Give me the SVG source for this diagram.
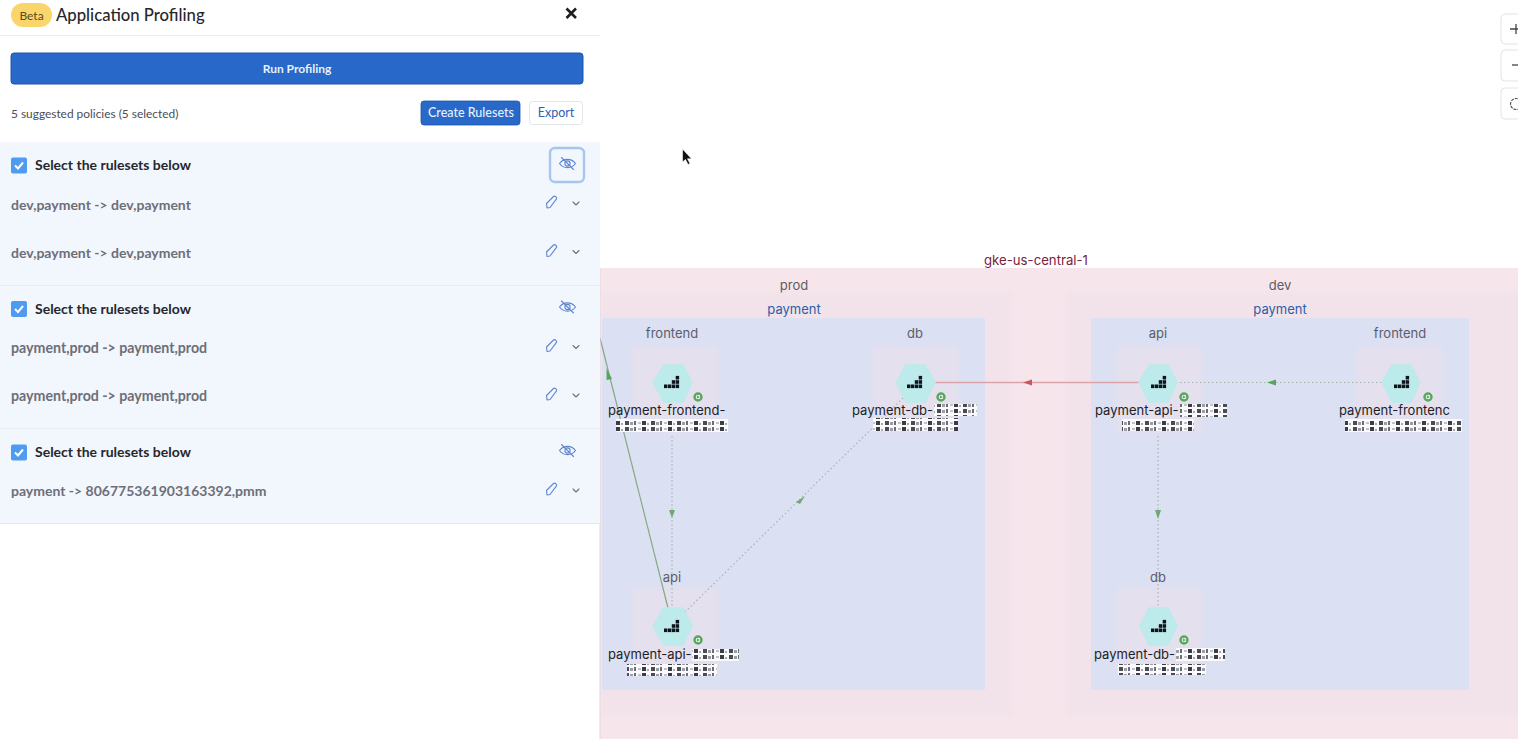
<svg xmlns="http://www.w3.org/2000/svg" width="1518" height="739" viewBox="0 0 1518 739">
<style>
.ui{font-family:Lato,"Liberation Sans",sans-serif}
.sel{font-size:14px;font-weight:700;fill:#26272c}
.rule{font-size:14px;font-weight:700;fill:#6d6f78}
.ico{fill:none;stroke:#5f86cf;stroke-width:1.1;stroke-linecap:round;stroke-linejoin:round}
.chev{fill:none;stroke:#6d7280;stroke-width:1.1;stroke-linecap:round;stroke-linejoin:round}
.lbl{font-family:Inter,"Liberation Sans",sans-serif;font-size:13px;fill:#1d1e26}
.grp{font-family:Inter,"Liberation Sans",sans-serif;font-size:13px;fill:#5b5d68;text-anchor:middle}
.hex{fill:#bdeaea;stroke:#bdeaea;stroke-width:1.5;stroke-linejoin:round}
.halo{fill:#f0e0e8;opacity:.5}
.dot{fill:#fff;stroke:#5aa65e;stroke-width:2.4}
.play{fill:#5aa65e}
.bar{fill:#10131c}
.green{stroke:#86a886;stroke-width:1.2;fill:none}
.dotted{stroke:#a9b5b0;stroke-width:1.2;stroke-dasharray:1.5 2.5;fill:none}
.red{stroke:#dca3a8;stroke-width:1.6;fill:none}
.zoom{fill:#fff;stroke:#e2e3e6;stroke-width:1}
</style>
<defs>
<filter id="soft" x="-10%" y="-10%" width="120%" height="120%"><feGaussianBlur stdDeviation="2.500"/></filter>
<filter id="edge" x="-10%" y="-10%" width="120%" height="120%"><feGaussianBlur stdDeviation=".5"/></filter>
<pattern id="blur" width="26" height="6" patternUnits="userSpaceOnUse">
<rect width="26" height="6" fill="#fafafc"/>
<rect x="1" y="1" width="4" height="4" fill="#4a4b53"/><rect x="6" y="2" width="3" height="3" fill="#9c9da5"/><rect x="10" y="1" width="2" height="4" fill="#6b6c74"/><rect x="14" y="2" width="3" height="2" fill="#c2c3ca"/><rect x="18" y="1" width="4" height="4" fill="#3b3c44"/><rect x="23" y="3" width="2" height="2" fill="#a8a9b0"/>
</pattern>
<symbol id="bars" viewBox="0 0 15 15" overflow="visible">
<rect class="bar" x="0" y="9.500" width="3.400" height="3.600"/><rect class="bar" x="3.900" y="9.500" width="3.400" height="3.600"/><rect class="bar" x="7.800" y="9.500" width="3.400" height="3.600"/><rect class="bar" x="11.700" y="9.500" width="3.400" height="3.600"/>
<rect class="bar" x="7.800" y="5.200" width="3.400" height="3.600"/><rect class="bar" x="11.700" y="5.200" width="3.400" height="3.600"/><rect class="bar" x="11.700" y="0.900" width="3.400" height="3.600"/>
</symbol>
<g id="eye"><path class="ico" d="M-8 0C-4-5.500 4-5.500 8 0C4 5.500-4 5.500-8 0Z"/><circle class="ico" r="2.600"/><path class="ico" d="M-6-6L6 6"/></g>
<g id="pen"><path class="ico" d="M-5 6L-5.500 1.500L1.500-5.500C3-6.800 5.600-4.300 4.300-2.800L-2 5.500Z"/></g>
<path id="chevron" class="chev" d="M-3-1.500L0 1.500L3-1.500"/>
<g id="check"><rect x="-8" y="-8" width="16" height="16" rx="2" fill="#4f9bf0"/><path d="M-4 0L-1 3L4-3" fill="none" stroke="#fff" stroke-width="2"/></g>
</defs>
<rect width="1518" height="739" fill="#fff"/>

<g id="canvas">
<rect x="600" y="268" width="918" height="471" fill="#f7e5ec"/>
<rect x="600" y="292" width="412" height="424" fill="#f2e2ea" filter="url(#soft)"/>
<rect x="1066" y="292" width="460" height="424" fill="#f2e2ea" filter="url(#soft)"/>
<rect x="602" y="318" width="383" height="372" fill="#dbe0f3" filter="url(#edge)"/>
<rect x="1091" y="318" width="378" height="372" fill="#dbe0f3" filter="url(#edge)"/>
<text x="1036" y="265" font-family="Inter,'Liberation Sans',sans-serif" font-size="13.200" fill="#7a2240" text-anchor="middle">gke-us-central-1</text>
<text class="grp" x="794" y="290">prod</text>
<text class="grp" x="1280" y="290">dev</text>
<text class="grp" x="794" y="314" style="fill:#2c5fa8">payment</text>
<text class="grp" x="1280" y="314" style="fill:#2c5fa8">payment</text>
</g>

<g id="node-halos">
<rect class="halo" x="632" y="347" width="86" height="86" filter="url(#soft)"/>
<rect class="halo" x="873" y="347" width="86" height="86" filter="url(#soft)"/>
<rect class="halo" x="1116" y="347" width="86" height="86" filter="url(#soft)"/>
<rect class="halo" x="1357" y="347" width="86" height="86" filter="url(#soft)"/>
<rect class="halo" x="632" y="588" width="86" height="86" filter="url(#soft)"/>
<rect class="halo" x="1116" y="588" width="86" height="86" filter="url(#soft)"/>
</g>

<g id="connectors">
<path class="green" d="M600 338L668 608"/>
<path d="M606.500 368L612 379L606.500 380Z" fill="#58a55c"/>
<path class="dotted" d="M672 436V608"/>
<path d="M672 518L669 510H675Z" fill="#6fa873"/>
<path class="dotted" d="M685 612L905 396"/>
<path d="M796 502L805 496L800 504Z" fill="#6fa873"/>
<path class="red" d="M935 382.500H1140"/>
<path d="M1023 382.500L1032 379.500V385.500Z" fill="#c9555d"/>
<path class="dotted" d="M1180 382.500H1382"/>
<path d="M1267 382.500L1276 379.500V385.500Z" fill="#58a55c"/>
<path class="dotted" d="M1158 436V608"/>
<path d="M1158 519L1155 510H1161Z" fill="#6fa873"/>
</g>

<g id="node-prod-frontend">
<path class="hex" d="M664 365H683L692 382.500L683 402H664L653 382.500Z"/>
<use href="#bars" x="664" y="375" width="15" height="15"/>
<circle class="dot" cx="698" cy="397" r="3.500"/><path class="play" d="M696.800 395.200L700 397L696.800 398.800Z"/>
<text class="lbl" x="608" y="415">payment-frontend-</text><rect x="727" y="405" width="6" height="12" fill="#dbe0f3"/>
<rect x="616" y="419" width="112" height="13" fill="url(#blur)"/>
</g>
<g id="node-prod-db">
<path class="hex" d="M906 365H925L935 382.500L925 402H906L896 382.500Z"/>
<use href="#bars" x="907" y="375" width="15" height="15"/>
<circle class="dot" cx="941" cy="397" r="3.500"/><path class="play" d="M939.800 395.200L943 397L939.800 398.800Z"/>
<text class="lbl" x="852" y="415">payment-db-</text>
<rect x="934" y="404" width="43" height="12" fill="url(#blur)"/>
<rect x="873" y="418" width="85" height="13" fill="url(#blur)"/>
</g>
<g id="node-dev-api">
<path class="hex" d="M1149 365H1168L1177 382.500L1168 402H1149L1139 382.500Z"/>
<use href="#bars" x="1151" y="375" width="15" height="15"/>
<circle class="dot" cx="1184" cy="397" r="3.500"/><path class="play" d="M1182.800 395.200L1186 397L1182.800 398.800Z"/>
<text class="lbl" x="1095" y="415">payment-api-</text>
<rect x="1180" y="404" width="47" height="13" fill="url(#blur)"/>
<rect x="1122" y="419" width="72" height="12" fill="url(#blur)"/>
</g>
<g id="node-dev-frontend">
<path class="hex" d="M1392 365H1411L1420 382.500L1411 402H1392L1382 382.500Z"/>
<use href="#bars" x="1394" y="375" width="15" height="15"/>
<circle class="dot" cx="1428" cy="397" r="3.500"/><path class="play" d="M1426.800 395.200L1430 397L1426.800 398.800Z"/>
<text class="lbl" x="1339" y="415">payment-frontenc</text>
<rect x="1345" y="419" width="117" height="13" fill="url(#blur)"/>
</g>
<g id="node-prod-api">
<path class="hex" d="M664 608H683L692 626L683 645H664L653 626Z"/>
<use href="#bars" x="664" y="619" width="15" height="15"/>
<circle class="dot" cx="698" cy="640" r="3.500"/><path class="play" d="M696.800 638.200L700 640L696.800 641.800Z"/>
<text class="lbl" x="608" y="659">payment-api-</text>
<rect x="692" y="649" width="47" height="12" fill="url(#blur)"/>
<rect x="627" y="664" width="90" height="12" fill="url(#blur)"/>
</g>
<g id="node-dev-db">
<path class="hex" d="M1149 608H1168L1177 626L1168 645H1149L1140 626Z"/>
<use href="#bars" x="1151" y="619" width="15" height="15"/>
<circle class="dot" cx="1184" cy="640" r="3.500"/><path class="play" d="M1182.800 638.200L1186 640L1182.800 641.800Z"/>
<text class="lbl" x="1094" y="659">payment-db-</text>
<rect x="1176" y="648" width="49" height="13" fill="url(#blur)"/>
<rect x="1118" y="664" width="88" height="11" fill="url(#blur)"/>
</g>
<text class="grp" x="672" y="338">frontend</text>
<text class="grp" x="915" y="338">db</text>
<text class="grp" x="1158" y="338">api</text>
<text class="grp" x="1400" y="338">frontend</text>
<text class="grp" x="672" y="582">api</text>
<text class="grp" x="1158" y="582">db</text>

<g id="zoom-controls">
<rect class="zoom" x="1501" y="14" width="30" height="30" rx="4"/>
<path d="M1510 29H1522M1516 24V34" stroke="#444" stroke-width="1.300" fill="none"/>
<rect class="zoom" x="1501" y="50" width="30" height="31" rx="4"/>
<path d="M1512 65H1522" stroke="#444" stroke-width="1.300"/>
<rect class="zoom" x="1501" y="88" width="30" height="31" rx="4"/>
<circle cx="1516" cy="104" r="5.500" fill="none" stroke="#555" stroke-width="1.200" stroke-dasharray="3 1"/>
</g>

<g id="panel" class="ui">
<rect width="600" height="739" fill="#fff"/>
<rect x="599.500" y="268" width="1" height="471" fill="#e6d8dd"/>
<path d="M0 35.500H600" stroke="#ececef"/>
<rect x="11" y="3" width="41" height="24" rx="12" fill="#fad56b"/>
<text x="31.500" y="20" font-size="12" fill="#5a4a1c" text-anchor="middle">Beta</text>
<text x="56" y="21" font-size="16.700" font-weight="500" fill="#26272c">Application Profiling</text>
<path d="M566.500 8.500L576 18M576 8.500L566.500 18" stroke="#1d1e22" stroke-width="2.600"/>
<rect x="11" y="53" width="572" height="31" rx="3" fill="#2768c8" stroke="#1f57aa"/>
<text x="297" y="72.500" font-size="12" font-weight="700" fill="#e8f0fb" text-anchor="middle">Run Profiling</text>
<text x="11" y="118" font-size="11.900" fill="#4c4e57">5 suggested policies (5 selected)</text>
<rect x="421" y="101" width="99" height="24" rx="3" fill="#2768c8" stroke="#1f57aa" stroke-width=".8"/>
<text x="471" y="117" font-size="12.500" font-weight="500" fill="#e8f0fb" text-anchor="middle">Create Rulesets</text>
<rect x="529.500" y="101.500" width="53" height="23" rx="3" fill="#fff" stroke="#e2e4e8"/>
<text x="556" y="117" font-size="12.500" fill="#2f62b4" text-anchor="middle">Export</text>

<rect x="0" y="142" width="600" height="143" fill="#f2f6fd"/>
<rect x="0" y="285.500" width="600" height="143" fill="#f2f6fd"/>
<rect x="0" y="429" width="600" height="94" fill="#f2f6fd"/>
<path d="M0 285.500H600M0 428.500H600" stroke="#e8ebf2"/>
<path d="M0 523.500H600" stroke="#e6e7ea"/>

<use href="#check" x="19" y="165.500"/>
<text class="sel" x="35" y="170">Select the rulesets below</text>
<rect x="550" y="148" width="34" height="34" rx="5" fill="#f2f6fd" stroke="#a7c6ee" stroke-width="2.400"/>
<use href="#eye" x="567.500" y="163.500"/>
<text class="rule" x="11" y="209.500">dev,payment -&gt; dev,payment</text>
<use href="#pen" x="552" y="202"/><use href="#chevron" x="576" y="203.500"/>
<text class="rule" x="11" y="258">dev,payment -&gt; dev,payment</text>
<use href="#pen" x="552" y="250.500"/><use href="#chevron" x="576" y="252"/>

<use href="#check" x="19" y="309"/>
<text class="sel" x="35" y="313.500">Select the rulesets below</text>
<use href="#eye" x="567.500" y="307"/>
<text class="rule" x="11" y="353" style="font-size:14.200px">payment,prod -&gt; payment,prod</text>
<use href="#pen" x="552" y="345.500"/><use href="#chevron" x="576" y="347"/>
<text class="rule" x="11" y="401" style="font-size:14.200px">payment,prod -&gt; payment,prod</text>
<use href="#pen" x="552" y="394"/><use href="#chevron" x="576" y="395.500"/>

<use href="#check" x="19" y="452.500"/>
<text class="sel" x="35" y="457">Select the rulesets below</text>
<use href="#eye" x="567.500" y="450.500"/>
<text class="rule" x="11" y="496">payment -&gt; 806775361903163392,pmm</text>
<use href="#pen" x="552" y="489"/><use href="#chevron" x="576" y="490.500"/>
</g>
<path id="cursor" d="M682.500 149V162L685.500 159.500L688 164.500L690 163.500L687.500 158.800H691.500Z" fill="#111" stroke="#fff" stroke-width=".6"/>
</svg>
